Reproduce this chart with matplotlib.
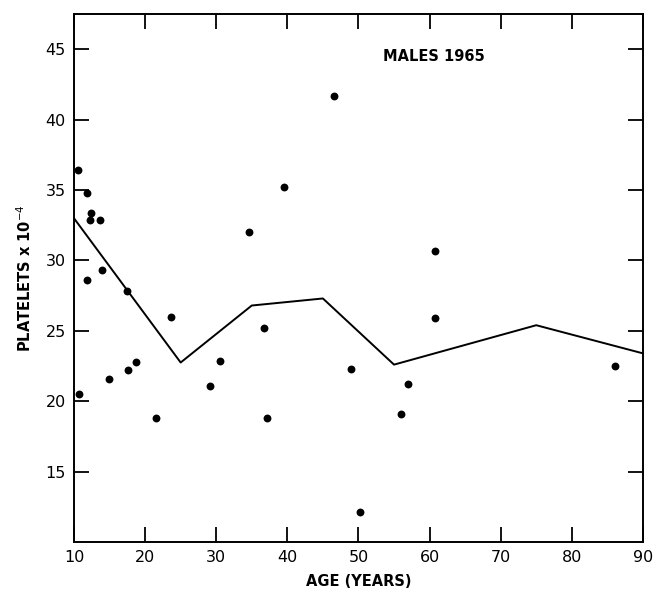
import matplotlib
matplotlib.use("Agg")
import matplotlib.pyplot as plt

# Scatter data (age in years, platelets x 10^-4)
ages = [10.5, 11.8, 12.35, 12.25, 13.7, 11.8, 13.9, 17.5, 10.7,
        14.9, 17.6, 18.7, 21.6, 23.7, 29.1, 30.5, 34.55, 39.6,
        36.7, 37.1, 46.6, 49.0, 50.2, 56.0, 57.0, 60.75, 60.7, 86.1]
platelets = [36.4, 34.8, 33.4, 32.9, 32.9, 28.6, 29.3, 27.8, 20.5,
             21.6, 22.2, 22.8, 18.8, 26.0, 21.05, 22.85, 32.0, 35.2,
             25.2, 18.8, 41.7, 22.3, 12.1, 19.1, 21.2, 30.7, 25.9, 22.5]

# Mean line
line_ages = [10, 25, 35, 45, 55, 75, 90]
line_vals = [33.0, 22.75, 26.8, 27.3, 22.6, 25.4, 23.4]

xticks = [10, 20, 30, 40, 50, 60, 70, 80, 90]
yticks = [15, 20, 25, 30, 35, 40, 45]

fig = plt.figure(figsize=(6.57, 5.90), dpi=100)
ax = fig.add_axes([0.1126, 0.0814, 0.866, 0.8946])

ax.plot(line_ages, line_vals, color="black", lw=1.4, zorder=2)
ax.scatter(ages, platelets, s=32, color="black", zorder=3, linewidths=0)

ax.set_xlim(10, 90)
ax.set_ylim(10, 47.5)
ax.set_xticks(xticks)
ax.set_yticks(yticks)
ax.set_xticklabels([str(t) for t in xticks])
ax.set_yticklabels([str(t) for t in yticks])

ax.tick_params(axis="both", direction="in", length=11, width=1.3,
               top=True, right=True, labelsize=11.5, pad=6)
for s in ax.spines.values():
    s.set_linewidth(1.4)

ax.set_xlabel("AGE (YEARS)", fontsize=10.5, fontweight="bold", labelpad=6)
ax.set_ylabel("PLATELETS x 10$^{-4}$", fontsize=10.5, fontweight="bold", labelpad=8)

ax.text(60.6, 44.5, "MALES 1965", fontsize=10.5, fontweight="bold",
        ha="center", va="center")

fig.savefig("out.png", dpi=100)
